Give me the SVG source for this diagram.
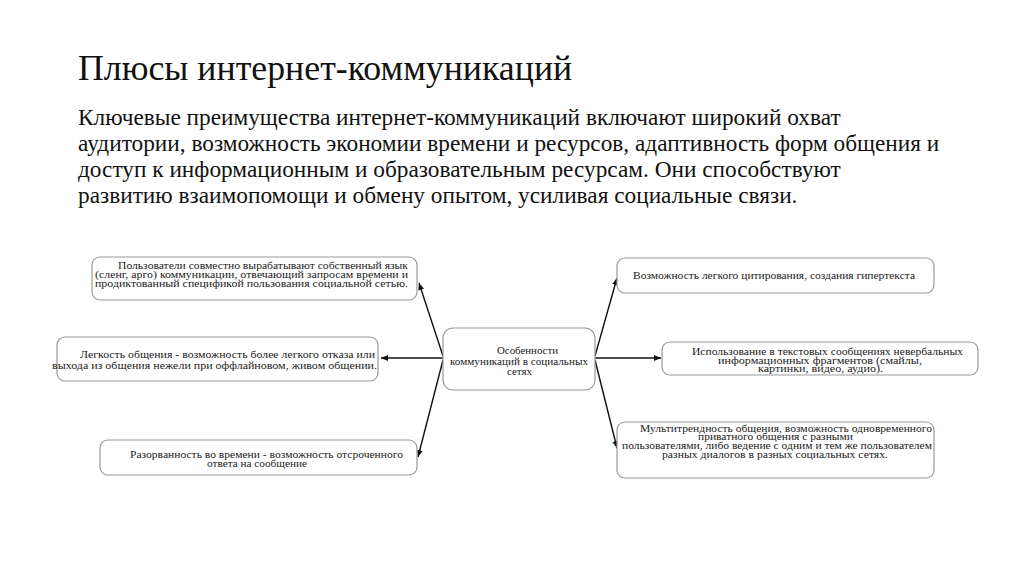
<svg xmlns="http://www.w3.org/2000/svg" width="1024" height="574" viewBox="0 0 1024 574">
<defs>
<style>
text{font-family:'Liberation Serif','Times New Roman',serif;fill:#111}
.h{font-size:35.8px}
.p{font-size:23.3px}
.s{font-size:11px;fill:#222}
.box{fill:#fff;stroke:#9a9a9a;stroke-width:1.2}
.ln{stroke:#111;stroke-width:1.4;fill:none;marker-end:url(#ah)}
</style>
<marker id="ah" markerWidth="8" markerHeight="8" refX="7" refY="4" orient="auto" markerUnits="userSpaceOnUse">
<path d="M0,1 L7,4 L0,7 Z" fill="#111"/>
</marker>
</defs>
<rect width="1024" height="574" fill="#fff"/>
<g id="title">
<text class="h" x="78" y="80">Плюсы интернет-коммуникаций</text>
</g>
<g id="para">
<text class="p" x="78" y="125">Ключевые преимущества интернет-коммуникаций включают широкий охват</text>
<text class="p" x="78" y="151">аудитории, возможность экономии времени и ресурсов, адаптивность форм общения и</text>
<text class="p" x="78" y="177">доступ к информационным и образовательным ресурсам. Они способствуют</text>
<text class="p" x="78" y="203">развитию взаимопомощи и обмену опытом, усиливая социальные связи.</text>
</g>
<g id="connectors">
<line class="ln" x1="443" y1="356" x2="419" y2="283"/>
<line class="ln" x1="443" y1="358" x2="381" y2="358"/>
<line class="ln" x1="443" y1="360" x2="418" y2="457"/>
<line class="ln" x1="595" y1="356" x2="617" y2="278"/>
<line class="ln" x1="595" y1="358" x2="661" y2="358"/>
<line class="ln" x1="595" y1="360" x2="617" y2="448"/>
</g>
<g id="center">
<rect class="box" x="443" y="328" width="152" height="62" rx="10"/>
<text class="s" x="497" y="354" textLength="61" lengthAdjust="spacingAndGlyphs">Особенности</text>
<text class="s" x="450" y="365" textLength="138" lengthAdjust="spacingAndGlyphs">коммуникаций в социальных</text>
<text class="s" x="507" y="375" textLength="25" lengthAdjust="spacingAndGlyphs">сетях</text>
</g>
<g id="n1">
<rect class="box" x="92" y="257" width="325" height="43" rx="8"/>
<text class="s" x="118" y="269" textLength="290" lengthAdjust="spacingAndGlyphs">Пользователи совместно вырабатывают собственный язык</text>
<text class="s" x="95" y="278" textLength="313" lengthAdjust="spacingAndGlyphs">(сленг, арго) коммуникации, отвечающий запросам времени и</text>
<text class="s" x="95" y="287" textLength="313" lengthAdjust="spacingAndGlyphs">продиктованный спецификой пользования социальной сетью.</text>
</g>
<g id="n2">
<rect class="box" x="57" y="337" width="321" height="44" rx="8"/>
<text class="s" x="80" y="358" textLength="295" lengthAdjust="spacingAndGlyphs">Легкость общения -  возможность более легкого отказа или</text>
<text class="s" x="52" y="369" textLength="325" lengthAdjust="spacingAndGlyphs">выхода из общения нежели при оффлайновом, живом общении.</text>
</g>
<g id="n3">
<rect class="box" x="100" y="440" width="317" height="35" rx="8"/>
<text class="s" x="130" y="458" textLength="273" lengthAdjust="spacingAndGlyphs">Разорванность во времени - возможность отсроченного</text>
<text class="s" x="207" y="467" textLength="100" lengthAdjust="spacingAndGlyphs">ответа на сообщение</text>
</g>
<g id="n4">
<rect class="box" x="617" y="258" width="317" height="35" rx="8"/>
<text class="s" x="633" y="279" textLength="282" lengthAdjust="spacingAndGlyphs">Возможность легкого цитирования, создания гипертекста</text>
</g>
<g id="n5">
<rect class="box" x="662" y="342" width="316" height="33" rx="8"/>
<text class="s" x="692" y="355" textLength="271" lengthAdjust="spacingAndGlyphs">Использование в текстовых сообщениях невербальных</text>
<text class="s" x="718" y="364" textLength="204" lengthAdjust="spacingAndGlyphs">информационных фрагментов (смайлы,</text>
<text class="s" x="758" y="372" textLength="125" lengthAdjust="spacingAndGlyphs">картинки, видео, аудио).</text>
</g>
<g id="n6">
<rect class="box" x="617" y="422" width="317" height="56" rx="8"/>
<text class="s" x="640" y="432" textLength="292" lengthAdjust="spacingAndGlyphs">Мультитрендность общения, возможность одновременного</text>
<text class="s" x="698" y="440" textLength="155" lengthAdjust="spacingAndGlyphs">приватного общения с разными</text>
<text class="s" x="622" y="449" textLength="310" lengthAdjust="spacingAndGlyphs">пользователями, либо ведение с одним и тем же пользователем</text>
<text class="s" x="662" y="458" textLength="226" lengthAdjust="spacingAndGlyphs">разных диалогов в разных социальных сетях.</text>
</g>
</svg>
